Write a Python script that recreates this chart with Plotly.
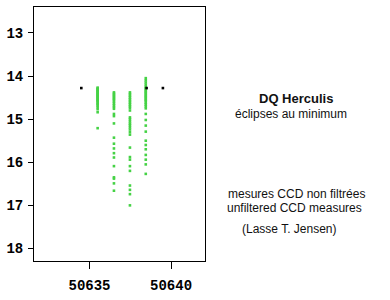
import plotly.graph_objects as go

# --- data ---
col1_x = 50635.5
col1_y = [14.27, 14.29, 14.31, 14.33, 14.35, 14.37, 14.39, 14.41, 14.43, 14.45, 14.47,
          14.49, 14.51, 14.53, 14.55, 14.57, 14.59, 14.62, 14.65, 14.68, 14.72, 14.77,
          14.84, 15.21]
col2_x = 50636.5
col2_y = [14.38, 14.41, 14.44, 14.47, 14.50, 14.53, 14.56, 14.60, 14.64, 14.68, 14.72,
          14.76, 14.88, 14.93, 15.10, 15.43, 15.57, 15.68, 15.79, 15.89, 16.09, 16.35,
          16.38, 16.49, 16.66]
col3_x = 50637.48
col3_y = [14.38, 14.42, 14.46, 14.50, 14.54, 14.58, 14.62, 14.66, 14.70, 14.74, 14.80,
          14.96, 15.00, 15.05, 15.10, 15.14, 15.19, 15.24, 15.30, 15.36, 15.66, 15.88,
          15.94, 16.09, 16.20, 16.54, 16.64, 16.74, 17.00]
col4_x = 50638.45
col4_y = [14.05, 14.10, 14.15, 14.20, 14.25, 14.28, 14.31, 14.34, 14.37, 14.40, 14.43,
          14.46, 14.49, 14.52, 14.55, 14.58, 14.62, 14.66, 14.70, 14.75, 14.88, 15.02,
          15.15, 15.29, 15.50, 15.60, 15.70, 15.83, 15.94, 16.05, 16.27]
black_x = [50634.5, 50638.5, 50639.5]
black_y = [14.28, 14.28, 14.28]

x_ticks = [50635, 50640]
y_ticks = [13, 14, 15, 16, 17, 18]

green_x = [col1_x] * len(col1_y) + [col2_x] * len(col2_y) + [col3_x] * len(col3_y) + [col4_x] * len(col4_y)
green_y = col1_y + col2_y + col3_y + col4_y

fig = go.Figure()
fig.add_trace(go.Scatter(x=green_x, y=green_y, mode="markers",
                         marker=dict(symbol="square", size=2.6, color="#45d245", line=dict(width=0)),
                         hoverinfo="skip"))
fig.add_trace(go.Scatter(x=black_x, y=black_y, mode="markers",
                         marker=dict(symbol="square", size=2.6, color="#000000", line=dict(width=0)),
                         hoverinfo="skip"))

tickfont = dict(family="Liberation Mono", size=14, color="#000000", weight="bold")
fig.update_xaxes(range=[50631.6, 50642.08], tickvals=x_ticks, ticktext=[str(v) for v in x_ticks],
                 ticks="outside", ticklen=7, tickcolor="#000", showline=True, linecolor="#000",
                 linewidth=1, mirror=True, showgrid=False, zeroline=False,
                 tickfont=tickfont, ticklabelstandoff=4)
fig.update_yaxes(range=[18.29, 12.4], tickvals=y_ticks, ticktext=[str(v) for v in y_ticks],
                 ticks="outside", ticklen=5, tickcolor="#000", showline=True, linecolor="#000",
                 linewidth=1, mirror=True, showgrid=False, zeroline=False,
                 tickfont=tickfont, ticklabelstandoff=2)

def px_x(px):
    return (px - 32) / 173.0

def px_y(py):
    return (273 - py) / 267.0

notes = [
    ("<b>DQ Herculis</b>", 297, 102.5, 13),
    ("éclipses au minimum", 291.7, 118.5, 12),
    ("mesures CCD non filtrées", 297.8, 203, 12),
    ("unfiltered CCD measures", 295.5, 217.5, 12),
    ("(Lasse T. Jensen)", 290, 239.5, 12),
]
for txt, x, y, s in notes:
    fig.add_annotation(text=txt, x=px_x(x), y=px_y(y), xref="paper", yref="paper",
                       showarrow=False, xanchor="center", yanchor="middle",
                       font=dict(family="Liberation Sans", size=s, color="#111111"))

fig.update_layout(width=390, height=300, margin=dict(l=32, r=185, t=6, b=27),
                  paper_bgcolor="white", plot_bgcolor="white", showlegend=False)

fig.write_html("out.html")
